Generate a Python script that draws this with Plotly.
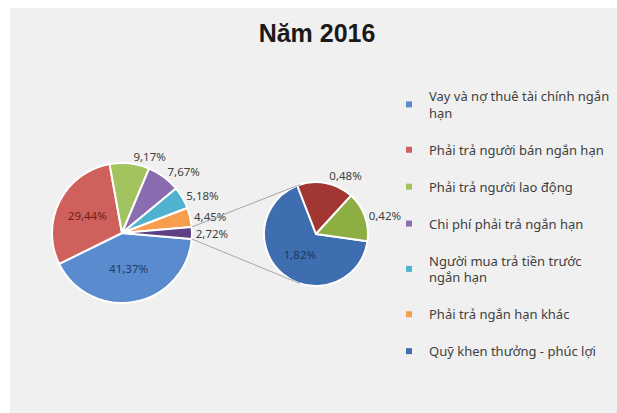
import math
import plotly.graph_objects as go

W, H = 617, 413

title = "Năm 2016"

# main pie (last slice = group shown in the second pie)
main_labels = ["Vay và nợ thuê tài chính ngắn hạn", "Phải trả người bán ngắn hạn",
               "Phải trả người lao động", "Chi phí phải trả ngắn hạn",
               "Người mua trả tiền trước ngắn hạn", "Phải trả ngắn hạn khác", "Khác"]
main_values = [41.37, 29.44, 9.17, 7.67, 5.18, 4.45, 2.72]
main_colors = ["#5a8bcf", "#d0605c", "#a3c35f", "#8a6db0", "#4fb3cf", "#f89c4e", "#5d4184"]

# second pie
sub_labels = ["Quỹ khen thưởng - phúc lợi", "Khác (1)", "Khác (2)"]
sub_values = [1.82, 0.48, 0.42]
sub_colors = ["#3e6db0", "#a23633", "#8cae42"]

legend_labels = ["Vay và nợ thuê tài chính ngắn<br>hạn", "Phải trả người bán ngắn hạn",
                 "Phải trả người lao động", "Chi phí phải trả ngắn hạn",
                 "Người mua trả tiền trước<br>ngắn hạn", "Phải trả ngắn hạn khác",
                 "Quỹ khen thưởng - phúc lợi"]
legend_colors = main_colors[:6] + [sub_colors[0]]

# pie boxes in pixels (x0, x1, ytop, ybottom)
main_box = (52, 192, 163, 303)
sub_box = (264, 368, 182, 286)


def dom(box):
    x0, x1, yt, yb = box
    return dict(x=[x0 / W, x1 / W], y=[1 - yb / H, 1 - yt / H])


main_total = sum(main_values)
main_rot = 90 + main_values[-1] / main_total * 180
sub_rot = 98

main_pos = ["inside", "inside"] + ["outside"] * 5
main_txtcol = ["#1e3a66", "#6e1f1d"] + ["#404040"] * 5

fig = go.Figure()
fig.add_trace(go.Pie(
    labels=main_labels, values=main_values, sort=False, direction="clockwise",
    rotation=main_rot, domain=dom(main_box),
    marker=dict(colors=main_colors, line=dict(color="white", width=2)),
    texttemplate="%{value:.2f}%", textposition=main_pos,
    textfont=dict(family="Noto Sans", size=11.5, color=main_txtcol),
    showlegend=False, hoverinfo="label+value",
))
fig.add_trace(go.Pie(
    labels=sub_labels, values=sub_values, sort=False, direction="clockwise",
    rotation=sub_rot, domain=dom(sub_box),
    marker=dict(colors=sub_colors, line=dict(color="white", width=2)),
    texttemplate="%{value:.2f}%", textposition=["inside", "outside", "outside"],
    textfont=dict(family="Noto Sans", size=11.5, color=["#1e3a66", "#404040", "#404040"]),
    showlegend=False, hoverinfo="label+value",
))

for i, (name, col) in enumerate(zip(legend_labels, legend_colors)):
    fig.add_trace(go.Scatter(
        x=[None], y=[None], mode="markers", name=name, legendgroup=f"g{i}",
        marker=dict(symbol="square", size=6, color=col),
    ))

# connector lines from the small slice to the second pie
mcx = (main_box[0] + main_box[1]) / 2
mcy = (main_box[2] + main_box[3]) / 2
mr = (main_box[1] - main_box[0]) / 2
scx = (sub_box[0] + sub_box[1]) / 2
scy = (sub_box[2] + sub_box[3]) / 2
sr = (sub_box[1] - sub_box[0]) / 2
half = main_values[-1] / main_total * 180
shapes = [dict(type="rect", xref="paper", yref="paper", x0=10 / W, x1=1, y0=0, y1=1 - 8 / H,
               fillcolor="#f0f0f0", line=dict(width=0), layer="below")]
for a_main, a_sub in [(90 - half, -18), (90 + half, 198)]:
    p = (mcx + mr * math.sin(math.radians(a_main)), mcy - mr * math.cos(math.radians(a_main)))
    q = (scx + sr * math.sin(math.radians(a_sub)), scy - sr * math.cos(math.radians(a_sub)))
    shapes.append(dict(type="line", xref="paper", yref="paper",
                       x0=p[0] / W, y0=1 - p[1] / H, x1=q[0] / W, y1=1 - q[1] / H,
                       line=dict(color="#a6a6a6", width=1)))

fig.update_layout(
    width=W, height=H, margin=dict(l=0, r=0, t=0, b=0, autoexpand=False),
    paper_bgcolor="white", plot_bgcolor="rgba(0,0,0,0)",
    separators=",.",
    title=dict(text="<b>" + title + "</b>", x=317 / W, xanchor="center", y=1 - 33 / H, yanchor="middle",
               font=dict(family="Liberation Sans", size=25, color="#1a1a1a")),
    xaxis=dict(visible=False), yaxis=dict(visible=False),
    legend=dict(x=389 / W, y=1 - 81 / H, xanchor="left", yanchor="top",
                font=dict(family="Noto Sans", size=13, color="#404040"),
                bgcolor="rgba(0,0,0,0)", tracegroupgap=17, itemclick=False),
    shapes=shapes,
)

fig.write_html("out.html", config={"displayModeBar": False},
               post_script="document.body.style.margin='0';")
